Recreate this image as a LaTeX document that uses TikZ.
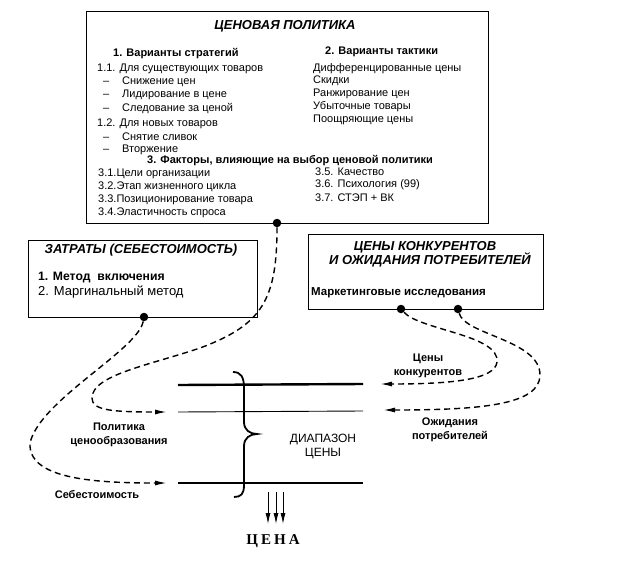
\documentclass[tikz,border=0pt]{standalone}
\usepackage{fontspec}
\setmainfont{Liberation Sans}
\newfontfamily\serifbold[LetterSpace=20]{Liberation Serif}
\usetikzlibrary{arrows.meta}
\newcommand{\dashitem}[1]{\makebox[19pt][l]{–}#1}
\tikzset{
  box/.style={draw, line width=1.1pt, inner sep=0},
  txt/.style={anchor=west, inner sep=0, font=\fontsize{11}{13}\selectfont},
  btxt/.style={txt, font=\fontsize{11}{13}\selectfont\bfseries},
  ctxt/.style={inner sep=0, align=center, font=\fontsize{11}{13.5}\selectfont\bfseries},
  ttl/.style={inner sep=0, align=center, font=\fontsize{13}{13}\selectfont\bfseries\itshape},
  blob/.style={circle, fill=black, inner sep=0, minimum size=8.5pt},
  dline/.style={line width=1.4pt, dash pattern=on 6pt off 4pt},
  tipa/.style={-{Latex[length=12pt,width=5pt]}},
  thick line/.style={line width=2.4pt},
  thin line/.style={line width=0.9pt}
}
\begin{document}
\begin{tikzpicture}[x=1pt,y=-1pt]
\useasboundingbox (0,0) rectangle (629,573);
% ---- top box
\node[box, anchor=north west, minimum width=402pt, minimum height=212pt] (top) at (86,11) {};
\node[ttl] (ttop) at (285,26) {ЦЕНОВАЯ ПОЛИТИКА};
\node[btxt] (s1) at (113,54) {1. Варианты стратегий};
\node[txt] (s11) at (97,69) {1.1. Для существующих товаров};
\node[txt] (s111) at (103,82) {\dashitem{Снижение цен}};
\node[txt] (s112) at (103,95) {\dashitem{Лидирование в цене}};
\node[txt] (s113) at (103,109) {\dashitem{Следование за ценой}};
\node[txt] (s12) at (97,124) {1.2. Для новых товаров};
\node[txt] (s121) at (103,137) {\dashitem{Снятие сливок}};
\node[txt] (s122) at (103,150) {\dashitem{Вторжение}};
\node[btxt] (f3) at (147,161) {3. Факторы, влияющие на выбор ценовой политики};
\node[txt] (f31) at (98,174) {3.1.Цели организации};
\node[txt] (f32) at (98,187) {3.2.Этап жизненного цикла};
\node[txt] (f33) at (98,200) {3.3.Позиционирование товара};
\node[txt] (f34) at (98,213) {3.4.Эластичность спроса};
\node[txt] (f35) at (315,172) {3.5. Качество};
\node[txt] (f36) at (315,185) {3.6. Психология (99)};
\node[txt] (f37) at (315,198) {3.7. СТЭП + ВК};
\node[btxt] (t2) at (325,52) {2. Варианты тактики};
\node[txt] (t21) at (313,69) {Дифференцированные цены};
\node[txt] (t22) at (313,81) {Скидки};
\node[txt] (t23) at (313,94) {Ранжирование цен};
\node[txt] (t24) at (313,107) {Убыточные товары};
\node[txt] (t25) at (313,120) {Поощряющие цены};
\node[blob] (dtop) at (277,223) {};
% ---- left box
\node[box, anchor=north west, minimum width=229pt, minimum height=77pt] (lbox) at (28,240) {};
\node[ttl] (tl) at (141,250) {ЗАТРАТЫ (СЕБЕСТОИМОСТЬ)};
\node[btxt, font=\fontsize{12.2}{13}\selectfont\bfseries] (l1) at (38,278) {1. Метод\ \ включения};
\node[txt, font=\fontsize{13}{13}\selectfont] (l2) at (38,292) {2. Маргинальный метод};
\node[blob] (dleft) at (144,317) {};
% ---- right box
\node[box, anchor=north west, minimum width=235pt, minimum height=75pt] (rbox) at (308,234) {};
\node[ttl] (tr1) at (425,247) {ЦЕНЫ КОНКУРЕНТОВ};
\node[ttl] (tr2) at (430,260) {И ОЖИДАНИЯ ПОТРЕБИТЕЛЕЙ};
\node[btxt, font=\fontsize{11.5}{13}\selectfont\bfseries] (r1) at (311,293) {Маркетинговые исследования};
\node[blob] (dr1) at (401,309) {};
\node[blob] (dr2) at (458,309) {};
% ---- price range
\coordinate (a1) at (178,385);
\coordinate (a2) at (363,384);
\coordinate (b1) at (178,412);
\coordinate (b2) at (363,411);
\coordinate (c1) at (178,483);
\coordinate (c2) at (363,483);
\draw[thick line] (a1) -- (a2);
\draw[thin line] (b1) -- (b2);
\draw[thick line] (c1) -- (c2);
\draw[line width=1.8pt] (233,372) .. controls (241,372) and (244,377) .. (244,388) -- (244,422)
  .. controls (244,430) and (250,434) .. (257,434) .. controls (250,434) and (244,438) .. (244,446)
  -- (244,485) .. controls (244,494) and (241,497) .. (234,497);
\node[inner sep=0, align=center, font=\fontsize{12}{14}\selectfont] (range) at (323,446) {ДИАПАЗОН\\ЦЕНЫ};
% arrows down
\foreach \i/\xx in {1/268,2/276,3/283}{
  \coordinate (p\i) at (\xx,492);
  \coordinate (q\i) at (\xx,524);
  \draw[line width=0.9pt, -{Latex[length=11pt,width=5pt]}] (p\i) -- (q\i);
}
\node[inner sep=0, font=\serifbold\fontsize{15}{15}\selectfont\bfseries] (price) at (273,541) {ЦЕНА};
% ---- dashed connectors
\coordinate (e1) at (167,483);
\coordinate (e2) at (167,412);
\coordinate (e3) at (380,384);
\coordinate (e4) at (383,410);
\draw[dline, tipa] (dleft) .. controls (138,350) and (40,400) .. (30,443)
  .. controls (28,478) and (90,483) .. (e1);
\draw[dline, tipa] (dtop) .. controls (277,300) and (262,325) .. (200,348)
  .. controls (150,365) and (92,375) .. (92,398) .. controls (92,410) and (110,412) .. (e2);
\draw[dline, tipa] (dr1) .. controls (420,330) and (500,335) .. (497,362)
  .. controls (495,380) and (450,384) .. (e3);
\draw[dline, tipa] (dr2) .. controls (465,335) and (540,340) .. (540,375)
  .. controls (540,405) and (480,410) .. (e4);
\node[ctxt] (lab1) at (97,495) {Себестоимость};
\node[ctxt] (lab2) at (119,435) {Политика\\ценообразования};
\node[ctxt] (lab3) at (428,366) {Цены\\конкурентов};
\node[ctxt] (lab4) at (450,430) {Ожидания\\потребителей};
\end{tikzpicture}
\end{document}
